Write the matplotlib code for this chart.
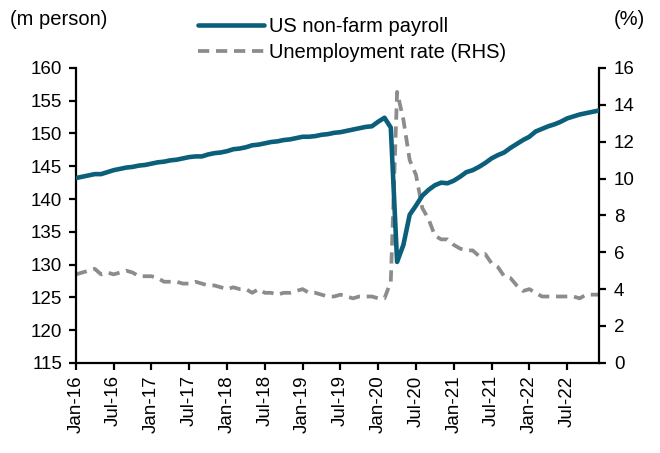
import matplotlib
matplotlib.use("Agg")
import matplotlib.pyplot as plt
import numpy as np

plt.rcParams['font.family'] = ['Liberation Sans', 'DejaVu Sans']

# Monthly data Jan-2016 .. Dec-2022
payroll = [
    143.2, 143.4, 143.6, 143.8, 143.8, 144.1, 144.4, 144.6, 144.8, 144.9, 145.1, 145.2,
    145.4, 145.6, 145.7, 145.9, 146.0, 146.2, 146.4, 146.5, 146.5, 146.8, 147.0, 147.1,
    147.3, 147.6, 147.7, 147.9, 148.2, 148.3, 148.5, 148.7, 148.8, 149.0, 149.1, 149.3,
    149.5, 149.5, 149.6, 149.8, 149.9, 150.1, 150.2, 150.4, 150.6, 150.8, 151.0, 151.1,
    151.8, 152.4, 150.9, 130.4, 133.0, 137.6, 139.0, 140.5, 141.4, 142.1, 142.5, 142.4,
    142.8, 143.4, 144.1, 144.4, 144.9, 145.5, 146.2, 146.7, 147.1, 147.8, 148.4, 149.0,
    149.5, 150.3, 150.7, 151.1, 151.4, 151.8, 152.3, 152.6, 152.9, 153.1, 153.3, 153.5,
]
unemp = [
    4.8, 4.9, 5.0, 5.1, 4.8, 4.9, 4.8, 4.9, 5.0, 4.9, 4.7, 4.7,
    4.7, 4.6, 4.4, 4.4, 4.4, 4.3, 4.3, 4.4, 4.3, 4.2, 4.2, 4.1,
    4.0, 4.1, 4.0, 4.0, 3.8, 4.0, 3.8, 3.8, 3.7, 3.8, 3.8, 3.9,
    4.0, 3.8, 3.8, 3.7, 3.6, 3.6, 3.7, 3.6, 3.5, 3.6, 3.6, 3.6,
    3.5, 3.5, 4.4, 14.7, 13.2, 11.0, 10.2, 8.4, 7.8, 6.9, 6.7, 6.7,
    6.4, 6.2, 6.1, 6.1, 5.8, 5.9, 5.4, 5.2, 4.7, 4.6, 4.2, 3.9,
    4.0, 3.8, 3.6, 3.6, 3.6, 3.6, 3.6, 3.6, 3.5, 3.7, 3.7, 3.7,
]
tick_labels = ['Jan-16', 'Jul-16', 'Jan-17', 'Jul-17', 'Jan-18', 'Jul-18', 'Jan-19',
               'Jul-19', 'Jan-20', 'Jul-20', 'Jan-21', 'Jul-21', 'Jan-22', 'Jul-22']

x = np.arange(len(payroll))

fig = plt.figure(figsize=(6.6, 4.53), dpi=100)
ax = fig.add_axes([0.115, 0.199, 0.792, 0.651])
ax2 = ax.twinx()

l1, = ax.plot(x, payroll, color='#0b5f7a', lw=3.3, solid_capstyle='round',
              label='US non-farm payroll', zorder=3)
l2, = ax2.plot(x, unemp, color='#8c8c8c', lw=2.7, linestyle=(0, (3, 1.8)),
               label='Unemployment rate (RHS)')
ax.set_zorder(ax2.get_zorder() + 1)
ax.patch.set_visible(False)

ax.set_xlim(0, len(payroll) - 1)
ax.set_ylim(115, 160)
ax.set_yticks(np.arange(115, 161, 5))
ax2.set_ylim(0, 16)
ax2.set_yticks(np.arange(0, 17, 2))

ax.set_xticks(np.arange(0, len(payroll), 6))
ax.set_xticklabels(tick_labels, rotation=90)

for a in (ax, ax2):
    a.spines['top'].set_visible(False)
    for s in a.spines.values():
        s.set_linewidth(1.6)
    a.tick_params(direction='out', length=5, width=1.6, labelsize=13.5, colors='black')
ax.spines['right'].set_visible(False)
ax2.spines['left'].set_visible(False)
ax2.spines['bottom'].set_visible(False)
ax.tick_params(axis='y', pad=5)
ax.tick_params(axis='x', pad=4)
ax2.tick_params(axis='y', pad=6)

fig.text(0.015, 0.958, '(m person)', fontsize=14.5, va='center', ha='left')
fig.text(0.978, 0.958, '(%)', fontsize=14.5, va='center', ha='right')

fig.legend(handles=[l1, l2], loc='upper left', bbox_to_anchor=(0.3, 0.962),
           frameon=False, fontsize=14.5, handlelength=3.3, handletextpad=0.25,
           labelspacing=0.35, borderaxespad=0.0, borderpad=0.0)

fig.savefig('out.png', dpi=100)
